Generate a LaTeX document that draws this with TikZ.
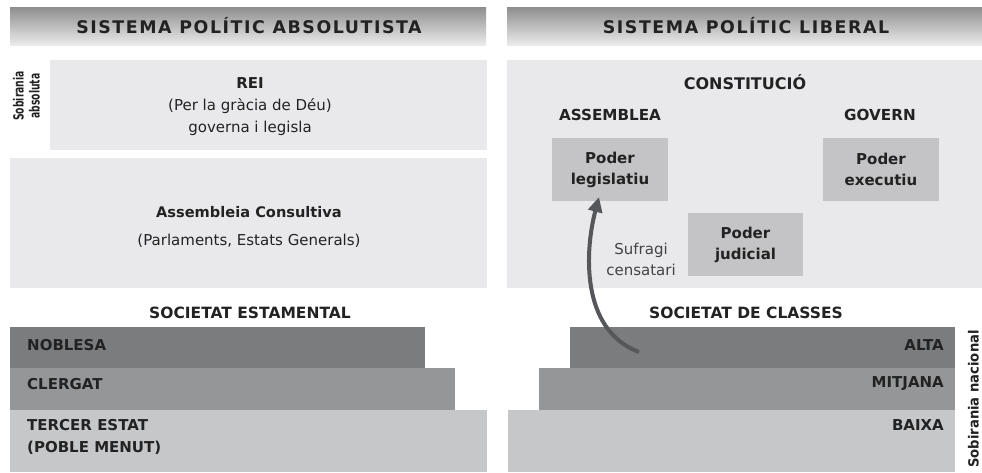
\documentclass[tikz,border=0pt]{standalone}
\usepackage{fontspec}
\setmainfont{DejaVu Sans}
\newfontfamily\hdfont[LetterSpace=9]{DejaVu Sans}
\usetikzlibrary{arrows.meta}
\definecolor{txt}{HTML}{222222}
\definecolor{panel}{HTML}{E9E9EB}
\definecolor{poder}{HTML}{C4C4C6}
\definecolor{bardark}{HTML}{7B7C7E}
\definecolor{barmid}{HTML}{959698}
\definecolor{barlight}{HTML}{C6C7C9}
\definecolor{hdtop}{HTML}{8E8E8E}
\definecolor{hdbot}{HTML}{EBEBEB}
\definecolor{arrowc}{HTML}{56575A}
\tikzset{
  area/.style={draw=none, inner sep=0pt, outer sep=0pt},
  header/.style={area, top color=hdtop, bottom color=hdbot, minimum height=38pt},
  hdtext/.style={text=txt, font=\hdfont\bfseries\fontsize{17.4}{20}\selectfont, inner sep=0pt},
  bodyt/.style={text=txt, font=\fontsize{15}{22}\selectfont, align=center, inner sep=0pt},
  boldt/.style={text=txt, font=\bfseries\fontsize{15}{21}\selectfont, align=center, inner sep=0pt},
  bart/.style={text=txt, font=\bfseries\fontsize{15}{22}\selectfont, inner sep=0pt},
  vert/.style={text=txt, rotate=90, align=center, inner sep=0pt},
  suf/.style={arrowc, line width=4pt, -{Triangle[width=14pt,length=15pt]}}
}
\begin{document}
\begin{tikzpicture}[x=1pt,y=-1pt]
\useasboundingbox[fill=white] (0,0) rectangle (982,472);
% headers
\node[header, minimum width=476pt] (hleft) at (248,26) {};
\node[header, minimum width=475pt] (hright) at (744.5,26) {};
\node[hdtext] (tleft) at (249,26) {SISTEMA POLÍTIC ABSOLUTISTA};
\node[hdtext] (tright) at (746,26) {SISTEMA POLÍTIC LIBERAL};
% left panels
\node[area, fill=panel, minimum width=437pt, minimum height=90pt] (rei) at (268.5,105) {};
\node[boldt] (reit) at (250,83) {REI};
\node[bodyt] (reit2) at (250,117) {(Per la gràcia de Déu)\\governa i legisla};
\node[vert, font=\bfseries\fontsize{14}{16}\selectfont] (sobabs) at (26.5,96)
  {\scalebox{0.66}[1]{Sobirania}\\\scalebox{0.66}[1]{absoluta}};
\node[area, fill=panel, minimum width=477pt, minimum height=130pt] (asc) at (248.5,223) {};
\node[boldt, font=\bfseries\fontsize{14.6}{20}\selectfont] (asct) at (249,212) {Assembleia Consultiva};
\node[bodyt] (asct2) at (249,241) {(Parlaments, Estats Generals)};
% right panel
\node[area, fill=panel, minimum width=475pt, minimum height=228pt] (con) at (744.5,174) {};
\node[boldt, font=\bfseries\fontsize{16}{20}\selectfont] (cont) at (745,82) {CONSTITUCIÓ};
\node[boldt, font=\bfseries\fontsize{15.2}{20}\selectfont] (assem) at (610,115) {ASSEMBLEA};
\node[boldt, font=\bfseries\fontsize{15.2}{20}\selectfont] (gov) at (880,115) {GOVERN};
\node[area, fill=poder, minimum width=116pt, minimum height=63pt] (leg) at (610,169.5) {};
\node[boldt] at (leg.center) {Poder\\legislatiu};
\node[area, fill=poder, minimum width=116pt, minimum height=63pt] (exe) at (881,169.5) {};
\node[boldt] at (exe.center) {Poder\\executiu};
\node[area, fill=poder, minimum width=115pt, minimum height=63pt] (jud) at (745.5,244.5) {};
\node[boldt] at (jud.center) {Poder\\judicial};
\node[bodyt, font=\fontsize{15}{21}\selectfont, text=txt!85] (sufr) at (641,259.5) {Sufragi\\censatari};
% society titles
\node[boldt, font=\bfseries\fontsize{15.5}{18}\selectfont] (soce) at (250,313) {SOCIETAT ESTAMENTAL};
\node[boldt, font=\bfseries\fontsize{15.5}{18}\selectfont] (socc) at (746,313) {SOCIETAT DE CLASSES};
% left bars
\node[area, fill=bardark, minimum width=415pt, minimum height=41pt, anchor=north west] (nob) at (10,327) {};
\node[area, fill=barmid, minimum width=445pt, minimum height=42pt, anchor=north west] (cle) at (10,368) {};
\node[area, fill=barlight, minimum width=477pt, minimum height=62pt, anchor=north west] (ter) at (10,410) {};
\node[bart, anchor=west] at (27,345) {NOBLESA};
\node[bart, anchor=west] at (27,384) {CLERGAT};
\node[bart, anchor=west, align=left] at (27,437) {TERCER ESTAT\\(POBLE MENUT)};
% right bars
\node[area, fill=bardark, minimum width=385pt, minimum height=41pt, anchor=north east] (alta) at (955,327) {};
\node[area, fill=barmid, minimum width=416pt, minimum height=42pt, anchor=north east] (mit) at (955,368) {};
\node[area, fill=barlight, minimum width=447pt, minimum height=62pt, anchor=north east] (bai) at (955,410) {};
\node[bart, anchor=east] at (944,345) {ALTA};
\node[bart, anchor=east] at (944,384) {MITJANA};
\node[bart, anchor=east] at (944,425) {BAIXA};
\node[vert, font=\bfseries\fontsize{14}{16}\selectfont] (sobnac) at (973.5,399) {\scalebox{0.94}[1]{Sobirania nacional}};
% arrow
\coordinate (tail) at (639,352);
\draw[suf] (tail) .. controls (580,330) and (585,250) .. ([xshift=-11pt,yshift=4pt]leg.south);
\end{tikzpicture}
\end{document}
